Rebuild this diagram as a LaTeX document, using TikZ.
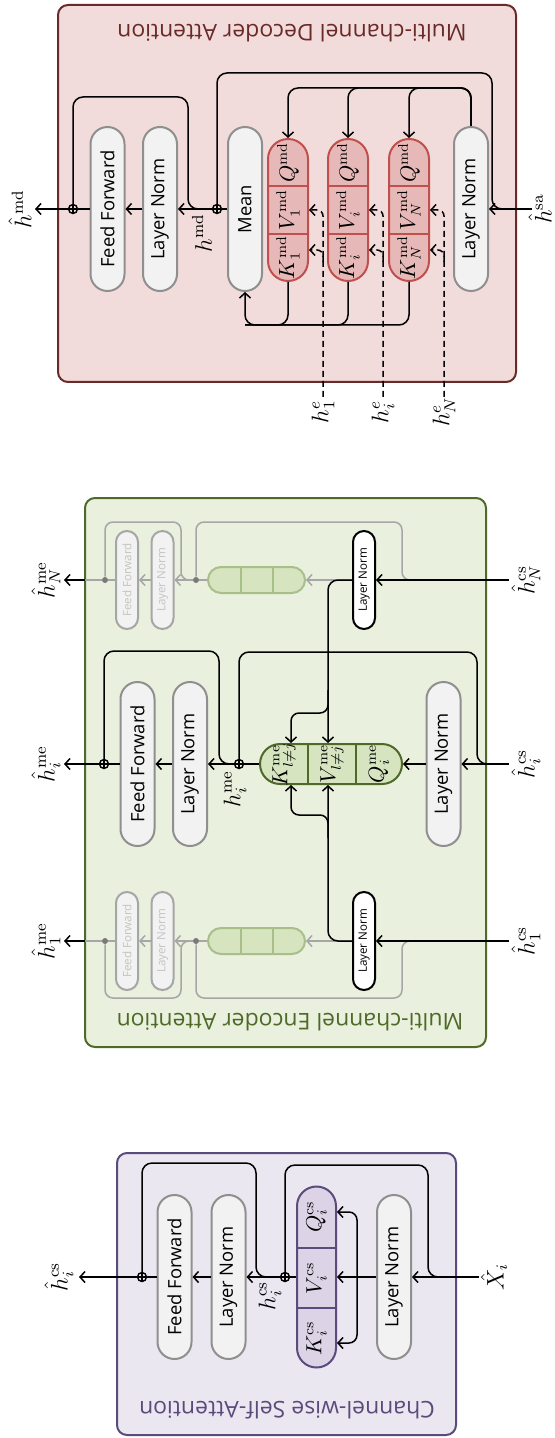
\documentclass[tikz,border=0pt]{standalone}
\usepackage[no-math]{fontspec}
\setmainfont{Open Sans}
\usepackage{tikz}
\usetikzlibrary{arrows.meta,calc}
\definecolor{csfill}{HTML}{EBE7F0}
\definecolor{csline}{HTML}{5B4A7C}
\definecolor{cscell}{HTML}{DCD4E6}
\definecolor{mefill}{HTML}{E9F0DD}
\definecolor{meline}{HTML}{4F6A28}
\definecolor{mecell}{HTML}{D7E4C0}
\definecolor{mefade}{HTML}{A9BF8A}
\definecolor{mdfill}{HTML}{F2DCDB}
\definecolor{mdline}{HTML}{6A2A28}
\definecolor{mdcell}{HTML}{E6B9B8}
\definecolor{mdedge}{HTML}{C0504D}
\definecolor{boxfill}{HTML}{F2F2F2}
\definecolor{boxline}{HTML}{8F8F8F}
\definecolor{fadeline}{HTML}{A6A6A6}
\definecolor{fadetext}{HTML}{C4C4C4}
\definecolor{fadedot}{HTML}{7A7A7A}
\tikzset{
  panel/.style={line width=1pt, rounded corners=5pt},
  paneltitle/.style={rotate=180, inner sep=0pt, font=\fontsize{11.5}{13}\selectfont},
  block/.style={draw=boxline, fill=boxfill, line width=1pt, inner sep=0pt,
                minimum width=17pt, minimum height=82pt, rounded corners=8.5pt,
                font=\fontsize{9.2}{10}\selectfont},
  minibox/.style={draw=black, fill=white, line width=1pt, inner sep=0pt,
                  minimum width=11pt, minimum height=49pt, rounded corners=5.5pt,
                  font=\fontsize{5.8}{6}\selectfont},
  ghostbox/.style={minibox, draw=fadeline, fill=boxfill, text=fadetext},
  cspill/.style={draw=csline, fill=cscell, line width=1pt, inner sep=0pt,
                 minimum width=19.5pt, minimum height=90.5pt, rounded corners=9.75pt},
  mepill/.style={draw=meline, fill=mecell, line width=1pt, inner sep=0pt,
                 minimum width=71pt, minimum height=20pt, rounded corners=10pt},
  mefaint/.style={draw=mefade, fill=mecell, line width=1pt, inner sep=0pt,
                  minimum width=48.5pt, minimum height=13pt, rounded corners=6.5pt},
  mdpill/.style={draw=mdedge, fill=mdcell, line width=1pt, inner sep=0pt,
                 minimum width=20pt, minimum height=71pt, rounded corners=10pt},
  cell/.style={rotate=90, inner sep=0pt, font=\fontsize{10.5}{12}\selectfont},
  varlabel/.style={rotate=90, inner sep=0pt, font=\fontsize{12}{14}\selectfont},
  addop/.style={circle, draw, line width=0.7pt, inner sep=0pt, minimum size=4.5pt,
    path picture={\draw[line width=0.6pt] (path picture bounding box.north) -- (path picture bounding box.south)
      (path picture bounding box.west) -- (path picture bounding box.east);}},
  joint/.style={circle, fill=fadedot, inner sep=0pt, minimum size=3pt},
  wire/.style={line width=0.75pt},
  flow/.style={wire, -{Straight Barb[length=2.5pt,width=5.5pt]}},
  fadewire/.style={line width=0.75pt, draw=fadeline},
  fadeflow/.style={fadewire, -{Straight Barb[length=2.5pt,width=5.5pt]}},
  dashflow/.style={flow, dash pattern=on 3pt off 2pt},
  bypass/.style={wire, rounded corners=5pt},
  fadebypass/.style={fadewire, rounded corners=4pt},
}

\begin{document}
\begin{tikzpicture}[x=0.5pt, y=-0.5pt]
  \useasboundingbox (0,0) rectangle (555,1438);

  % ---------------- channel-wise self-attention
  \draw[panel, draw=csline, fill=csfill] (117,1153) rectangle (456,1435);
  \node[paneltitle, text=csline] (cstitle) at (287,1410) {Channel-wise Self-Attention};

  \coordinate (csin) at (479,1277);
  \coordinate (csout) at (79,1277);
  \node[block] (cln)  at (394,1277) {\rotatebox{90}{Layer Norm}};
  \node[cspill] (cqkv) at (316.5,1277) {};
  \draw[csline, line width=0.7pt] (cqkv.west |- 0,1248) -- (cqkv.east |- 0,1248)
                                  (cqkv.west |- 0,1308) -- (cqkv.east |- 0,1308);
  \node[cell] (cq) at (316.5,1217) {$Q_i^{\mathrm{cs}}$};
  \node[cell] (cv) at (316.5,1278) {$V_i^{\mathrm{cs}}$};
  \node[cell] (ck) at (316.5,1338) {$K_i^{\mathrm{cs}}$};
  \node[addop] (cadd1) at (285,1277) {};
  \node[block] (cln2) at (228.5,1277) {\rotatebox{90}{Layer Norm}};
  \node[block] (cff)  at (174.5,1277) {\rotatebox{90}{Feed Forward}};
  \node[addop] (cadd2) at (142,1277) {};

  \coordinate (cbr)  at (357,1277);
  \coordinate (cres1) at (441,1277);
  \coordinate (cres2) at (267,1277);
  \draw[flow] (csin) -- (cln.east);
  \draw[flow] (cln.west) -- (cqkv.east);
  \draw[flow, rounded corners=4pt] (cbr) |- (cqkv.east |- 0,1212);
  \draw[flow, rounded corners=4pt] (cbr) |- (cqkv.east |- 0,1343);
  \draw[wire] (cqkv.west) -- (cadd1);
  \draw[flow] (cadd1) -- (cln2.east);
  \draw[flow] (cln2.west) -- (cff.east);
  \draw[wire] (cff.west) -- (cadd2);
  \draw[flow] (cadd2) -- (csout);
  \draw[bypass] (cres1) -| (428,1165) -| (cadd1);
  \draw[bypass] (cres2) -| (256,1163) -| (cadd2);

  \node[varlabel] (lxi)  at (494,1277) {$\hat{X}_i$};
  \node[varlabel] (lcso) at (59,1277)  {$\hat{h}_i^{\mathrm{cs}}$};
  \node[varlabel] (lcsh) at (270,1296) {$h_i^{\mathrm{cs}}$};

  % ---------------- multi-channel encoder attention
  \draw[panel, draw=meline, fill=mefill] (85,498) rectangle (486,1047);
  \node[paneltitle, text=meline] (metitle) at (290,1022) {Multi-channel Encoder Attention};

  % faded channels N and 1
  \foreach \r/\y/\t in {N/580/522, 1/941/998} {
    \coordinate (ein\r) at (509,\y);
    \coordinate (eout\r) at (64,\y);
    \coordinate (eedge\r) at (85,\y);
    \coordinate (eres\r a) at (416,\y);
    \coordinate (eres\r b) at (189,\y);
    \node[minibox] (eln\r) at (364,\y) {\rotatebox{90}{Layer Norm}};
    \node[mefaint] (ep\r) at (256.5,\y) {};
    \draw[mefade, line width=0.7pt] (ep\r.north -| 241,0) -- (ep\r.south -| 241,0)
                                    (ep\r.north -| 273,0) -- (ep\r.south -| 273,0);
    \node[joint] (ej\r a) at (196,\y) {};
    \node[ghostbox] (egln\r) at (162.5,\y) {\rotatebox{90}{Layer Norm}};
    \node[ghostbox] (egff\r) at (127,\y) {\rotatebox{90}{Feed Forward}};
    \node[joint] (ej\r b) at (105,\y) {};
    \draw[fadeflow] (eln\r.west) -- (ep\r.east);
    \draw[fadewire] (ep\r.west) -- (ej\r a);
    \draw[fadeflow] (ej\r a) -- (egln\r.east);
    \draw[fadeflow] (egln\r.west) -- (egff\r.east);
    \draw[fadewire] (egff\r.west) -- (ej\r b) -- (eedge\r);
    \draw[fadebypass] (eres\r a) -| (402,\t) -| (ej\r a);
    \draw[fadebypass] (eres\r b) -| (181,\t) -| (ej\r b);
    \draw[flow] (ein\r) -- (eln\r.east);
    \draw[flow] (eedge\r) -- (eout\r);
  }

  % channel i
  \coordinate (eini) at (509,764);
  \coordinate (eouti) at (64,764);
  \node[block] (eln)  at (443.5,764) {\rotatebox{90}{Layer Norm}};
  \node[mepill] (eqkv) at (331,764) {};
  \draw[meline, line width=0.7pt] (eqkv.north -| 308,0) -- (eqkv.south -| 308,0)
                                  (eqkv.north -| 356,0) -- (eqkv.south -| 356,0);
  \node[cell] (ek) at (284,764) {$K_{l\neq j}^{\mathrm{me}}$};
  \node[cell] (ev) at (332,764) {$V_{l\neq j}^{\mathrm{me}}$};
  \node[cell] (eq) at (379,764) {$Q_i^{\mathrm{me}}$};
  \node[addop] (eadd1) at (239,764) {};
  \node[block] (eln2) at (190,764) {\rotatebox{90}{Layer Norm}};
  \node[block] (eff)  at (137.5,764) {\rotatebox{90}{Feed Forward}};
  \node[addop] (eadd2) at (104,764) {};

  \coordinate (evx) at (328,764);
  \coordinate (ekx) at (291,764);
  \coordinate (eres1) at (490,764);
  \coordinate (eres2) at (229,764);
  \draw[flow] (eini) -- (eln.east);
  \draw[flow] (eln.west) -- (eqkv.east);
  \draw[wire] (eqkv.west) -- (eadd1);
  \draw[flow] (eadd1) -- (eln2.east);
  \draw[flow] (eln2.west) -- (eff.east);
  \draw[wire] (eff.west) -- (eadd2);
  \draw[flow] (eadd2) -- (eouti);
  \draw[bypass] (eres1) -| (477,652) -| (eadd1);
  \draw[bypass] (eres2) -| (219,651) -| (eadd2);
  % keys and values from the other channels
  \draw[flow, rounded corners=5pt] (elnN.west) -| (evx |- eqkv.north);
  \draw[flow, rounded corners=4pt] (evx |- 0,690) |- (ekx |- 0,713) -- (ekx |- eqkv.north);
  \draw[flow, rounded corners=5pt] (eln1.west) -| (evx |- eqkv.south);
  \draw[flow, rounded corners=4pt] (evx |- 0,838) |- (ekx |- 0,815) -- (ekx |- eqkv.south);

  \node[varlabel] (lmiN) at (526,580) {$\hat{h}_N^{\mathrm{cs}}$};
  \node[varlabel] (lmii) at (526,764) {$\hat{h}_i^{\mathrm{cs}}$};
  \node[varlabel] (lmi1) at (526,941) {$\hat{h}_1^{\mathrm{cs}}$};
  \node[varlabel] (lmoN) at (46,580)  {$\hat{h}_N^{\mathrm{me}}$};
  \node[varlabel] (lmoi) at (46,764)  {$\hat{h}_i^{\mathrm{me}}$};
  \node[varlabel] (lmo1) at (46,941)  {$\hat{h}_1^{\mathrm{me}}$};
  \node[varlabel] (lmeh) at (235,789) {$h_i^{\mathrm{me}}$};

  % ---------------- multi-channel decoder attention
  \draw[panel, draw=mdline, fill=mdfill] (58,5) rectangle (516,382);
  \node[paneltitle, text=mdline] (mdtitle) at (292,33) {Multi-channel Decoder Attention};

  \coordinate (din) at (532,209);
  \coordinate (dout) at (35,209);
  \node[block] (dln) at (471,209) {\rotatebox{90}{Layer Norm}};
  \foreach \p/\x/\s/\d in {dp1/288/1/323, dp2/348/i/383, dp3/409/N/444} {
    \node[mdpill] (\p) at (\x,210) {};
    \draw[mdedge, line width=0.7pt] (\p.west |- 0,186) -- (\p.east |- 0,186)
                                    (\p.west |- 0,234) -- (\p.east |- 0,234);
    \node[cell] (\p q) at (\x,162.5) {$Q^{\mathrm{md}}$};
    \node[cell] (\p v) at (\x,210) {$V_{\s}^{\mathrm{md}}$};
    \node[cell] (\p k) at (\x,257.5) {$K_{\s}^{\mathrm{md}}$};
    \coordinate (he\p) at (\d,397);
    \draw[flow, rounded corners=5pt] (dln.north) |- (\p.north |- 0,88) -- (\p.north);
    \draw[dashflow, rounded corners=3pt] (he\p) |- (\p.east |- 0,210);
    \draw[dashflow, rounded corners=3pt] (\d,262) |- (\p.east |- 0,250);
    \node[varlabel] (lhe\p) at (\d,412) {$h_{\s}^{e}$};
  }
  \node[block] (dmean) at (245,209) {\rotatebox{90}{Mean}};
  \node[addop] (dadd1) at (217,209) {};
  \node[block] (dln2) at (160,209) {\rotatebox{90}{Layer Norm}};
  \node[block] (dff)  at (107.5,209) {\rotatebox{90}{Feed Forward}};
  \node[addop] (dadd2) at (73,209) {};

  \coordinate (dres1) at (505,209);
  \coordinate (dres2) at (200,209);
  \foreach \p in {dp1,dp2}
    \draw[bypass] (\p.south) |- (dmean.south |- 0,325);
  \draw[flow, rounded corners=5pt] (dp3.south) |- (dmean.south |- 0,325) -- (dmean.south);
  \draw[flow] (din) -- (dln.east);
  \draw[wire] (dmean.west) -- (dadd1);
  \draw[flow] (dadd1) -- (dln2.east);
  \draw[flow] (dln2.west) -- (dff.east);
  \draw[wire] (dff.west) -- (dadd2);
  \draw[flow] (dadd2) -- (dout);
  \draw[bypass] (dres1) -| (492,73) -| (dadd1);
  \draw[bypass] (dres2) -| (188,97) -| (dadd2);

  \node[varlabel] (ldsa) at (540,209) {$\hat{h}^{\mathrm{sa}}$};
  \node[varlabel] (ldmd) at (20,209)  {$\hat{h}^{\mathrm{md}}$};
  \node[varlabel] (ldh)  at (202,233) {$h^{\mathrm{md}}$};
\end{tikzpicture}
\end{document}
